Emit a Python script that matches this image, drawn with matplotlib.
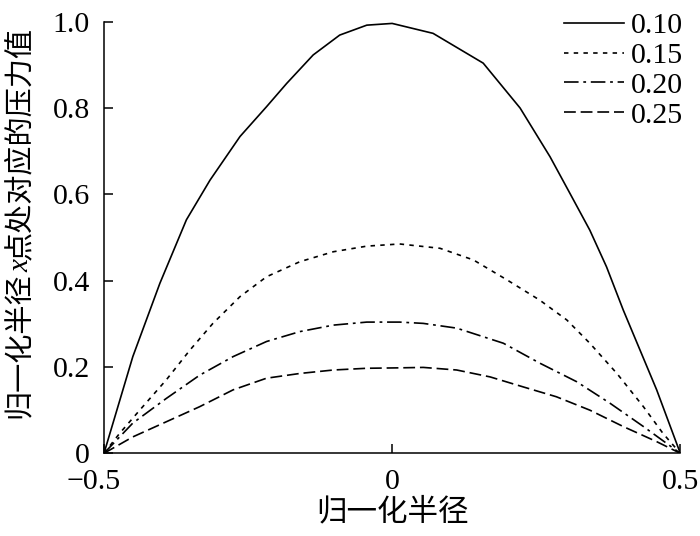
import matplotlib
matplotlib.use("Agg")
import matplotlib.pyplot as plt
import matplotlib.transforms as mtransforms

plt.rcParams['font.family'] = ['Liberation Serif', 'Noto Sans CJK SC']
plt.rcParams['lines.scale_dashes'] = False
plt.rcParams['axes.unicode_minus'] = True

# ---- data ----
labels = ['0.10', '0.15', '0.20', '0.25']

x_010 = [-0.5, -0.450, -0.403, -0.357, -0.316, -0.264, -0.218, -0.183, -0.137, -0.091, -0.044, 0.0,
         0.071, 0.158, 0.222, 0.274, 0.309, 0.343, 0.372, 0.401, 0.459, 0.5]
y_010 = [0.0, 0.224, 0.394, 0.541, 0.633, 0.734, 0.803, 0.857, 0.923, 0.969, 0.992, 0.996,
         0.973, 0.904, 0.800, 0.687, 0.601, 0.517, 0.432, 0.332, 0.147, 0.0]

x_015 = [-0.5, -0.473, -0.438, -0.392, -0.351, -0.311, -0.264, -0.218, -0.160, -0.102, -0.044, 0.013,
         0.083, 0.141, 0.199, 0.256, 0.303, 0.343, 0.390, 0.436, 0.470, 0.5]
y_015 = [0.0, 0.046, 0.100, 0.170, 0.239, 0.301, 0.363, 0.409, 0.444, 0.467, 0.480, 0.485,
         0.475, 0.448, 0.402, 0.355, 0.309, 0.255, 0.185, 0.108, 0.046, 0.0]

x_020 = [-0.5, -0.450, -0.392, -0.334, -0.276, -0.218, -0.160, -0.102, -0.044, 0.013,
         0.054, 0.112, 0.193, 0.256, 0.320, 0.378, 0.436, 0.5]
y_020 = [0.0, 0.070, 0.127, 0.181, 0.224, 0.259, 0.282, 0.297, 0.304, 0.304,
         0.301, 0.290, 0.255, 0.209, 0.166, 0.116, 0.062, 0.0]

x_025 = [-0.5, -0.450, -0.392, -0.334, -0.276, -0.218, -0.160, -0.102, -0.044, 0.013,
         0.054, 0.112, 0.170, 0.227, 0.285, 0.343, 0.401, 0.459, 0.5]
y_025 = [0.0, 0.038, 0.073, 0.108, 0.147, 0.174, 0.185, 0.193, 0.197, 0.198,
         0.199, 0.193, 0.177, 0.154, 0.131, 0.100, 0.062, 0.027, 0.0]

xticks = [-0.5, 0, 0.5]
xticklabels = ['\u22120.5', '0', '0.5']
yticks = [0, 0.2, 0.4, 0.6, 0.8, 1.0]
yticklabels = ['0', '0.2', '0.4', '0.6', '0.8', '1.0']

W, H = 700, 536
fig = plt.figure(figsize=(W / 100, H / 100), dpi=100)
ax = fig.add_axes([104 / W, (H - 453.3) / H, 576.3 / W, 431.6 / H])

lw = 1.2
ax.plot(x_010, y_010, color='black', lw=lw, linestyle='-', label=labels[0])
ax.plot(x_015, y_015, color='black', lw=lw, linestyle=(0, (3.2, 3.8)), label=labels[1])
ax.plot(x_020, y_020, color='black', lw=lw, linestyle=(0, (10.5, 3.4, 2.0, 3.4)), label=labels[2])
ax.plot(x_025, y_025, color='black', lw=lw, linestyle=(0, (8.5, 3.5)), label=labels[3])

ax.set_xlim(-0.5, 0.5)
ax.set_ylim(0, 1.0)
for s in ['top', 'right']:
    ax.spines[s].set_visible(False)
for s in ['left', 'bottom']:
    ax.spines[s].set_linewidth(1.1)

ax.set_xticks(xticks)
ax.set_xticklabels(xticklabels)
ax.set_yticks(yticks)
ax.set_yticklabels(yticklabels)
ax.tick_params(direction='in', length=6.5, width=1.1, labelsize=21.5, colors='black')
ax.tick_params(axis='x', pad=11)
ax.tick_params(axis='y', pad=10)

# the reference shifts the "−0.5" label a little to the left
lbl0 = ax.get_xticklabels()[0]
lbl0.set_transform(lbl0.get_transform() +
                   mtransforms.ScaledTranslation(-10 / 100, 0, fig.dpi_scale_trans))

ax.set_xlabel('归一化半径', fontsize=22, family=['Noto Sans CJK SC'], labelpad=1)

leg = ax.legend(loc='upper right', bbox_to_anchor=(1.005, 1.022), frameon=False,
                fontsize=21.5, handlelength=2.0, handletextpad=0.25, labelspacing=0.1,
                borderaxespad=0, borderpad=0)

# y label built from pieces (italic x in the middle)
r = fig.canvas.get_renderer()
xb = 28 / W
ypos = 118
parts = [('归一化半径', dict(family=['Noto Sans CJK SC'], fontsize=21)),
         ('x', dict(family=['Liberation Serif'], style='italic', fontsize=21)),
         ('点处对应的压力值', dict(family=['Noto Sans CJK SC'], fontsize=21))]
for txt, kw in parts:
    t = fig.text(xb, ypos / H, txt, rotation=90, rotation_mode='anchor',
                 ha='left', va='baseline', **kw)
    bb = t.get_window_extent(r)
    ypos = bb.y1

fig.savefig('out.png', dpi=100)
